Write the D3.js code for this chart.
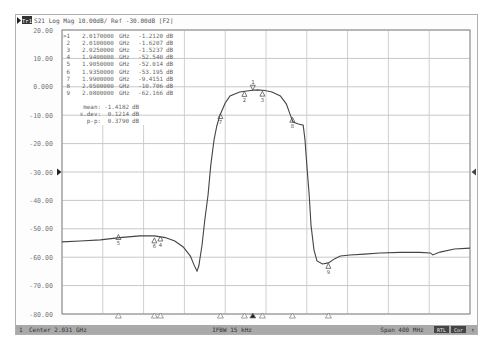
<!DOCTYPE html>
<html lang="en">
<head>
<meta charset="UTF-8">
<title>S21 Log Mag</title>
<script src="https://d3js.org/d3.v7.min.js"></script>
<style>
    body { margin: 0; background: #fff; }
    text { font-family: "DejaVu Sans Mono", monospace; fill: #666; }
</style>
</head>
<body>
<svg id="chart" width="486" height="338"></svg>
<script>
    // y axis (dB)
    var yTicks = [20, 10, 0, -10, -20, -30, -40, -50, -60, -70, -80];
    var yLabels = ["20.00", "10.00", "0.000", "-10.00", "-20.00", "-30.00", "-40.00", "-50.00", "-60.00", "-70.00", "-80.00"];
    var refLevel = -30;

    // frequency in MHz, trace in dB
    var traceFreq = [1858, 1873, 1890, 1906, 1923, 1935, 1944, 1952, 1959, 1965, 1968, 1970.5, 1972, 1974.7, 1977, 1979.7, 1982, 1984.7, 1987, 1989.7, 1994, 1998, 2006, 2015, 2021, 2027, 2033, 2040, 2045, 2048, 2050.5, 2055, 2059, 2060.5, 2062, 2064, 2065.5, 2068, 2070.5, 2075, 2080, 2085, 2090, 2098, 2110, 2123, 2140, 2156, 2165, 2167, 2173, 2185, 2198];
    var traceDb = [-54.6, -54.3, -53.9, -53.1, -52.5, -52.5, -53.1, -54.3, -56.4, -59.6, -62.7, -64.9, -63.1, -55.7, -46.9, -38.1, -27.5, -18.7, -13.8, -9.9, -5.7, -3.2, -1.8, -1.3, -1.1, -1.3, -1.8, -3.2, -6.1, -9.6, -12.4, -13.1, -13.5, -18.7, -27.5, -38.1, -48.7, -57.5, -61.3, -62.4, -62.0, -60.6, -59.6, -59.2, -58.9, -58.5, -58.3, -58.3, -58.5, -59.2, -58.2, -57.1, -56.8];

    // markers
    var markerIds = [1, 2, 3, 4, 5, 6, 7, 8, 9];
    var markerFreqText = ["2.0170000", "2.0100000", "2.0250000", "1.9400000", "1.9050000", "1.9350000", "1.9900000", "2.0500000", "2.0800000"];
    var markerDbText = ["-1.2120", "-1.6207", "-1.5237", "-52.540", "-52.014", "-53.195", "-9.4151", "-10.706", "-62.166"];
    var activeMarker = 1;

    var statNames = ["mean:", "s.dev:", "p-p:"];
    var statValues = ["-1.4182", "0.1214", "0.3790"];

    var titleText = "S21 Log Mag 10.00dB/ Ref -30.00dB [F2]";
    var statusLeft = "Center 2.031 GHz", statusMid = "IFBW 15 kHz", statusRight = "Span 400 MHz";

    var svg = d3.select("#chart");
    var plot = {left: 62, right: 470, top: 30, bottom: 314};

    var x = d3.scaleLinear().domain([1858, 2198]).range([plot.left, plot.right]);
    var y = d3.scaleLinear().domain([-80, 20]).range([plot.bottom, plot.top]);
    var xGrid = d3.range(11).map(function(i) { return 1858 + i * 34; });

    // instrument screen frame
    svg.append("rect").attr("x", 15.5).attr("y", 14.5).attr("width", 462).attr("height", 320)
        .attr("fill", "#fdfdfd").attr("stroke", "#b0b0b0");

    // title line
    svg.append("path").attr("d", "M17,17 L21,20.5 L17,24 Z").attr("fill", "#222");
    svg.append("rect").attr("x", 22).attr("y", 16).attr("width", 10).attr("height", 8).attr("fill", "#333");
    svg.append("text").attr("x", 27).attr("y", 22.5).attr("text-anchor", "middle")
        .style("font-size", "5.5px").style("fill", "#fff").text("Tr1");
    svg.append("text").attr("x", 34).attr("y", 23).style("font-size", "6.1px").style("fill", "#555").text(titleText);

    // plot background
    svg.append("rect").attr("x", plot.left).attr("y", plot.top)
        .attr("width", plot.right - plot.left).attr("height", plot.bottom - plot.top)
        .attr("fill", "#fff");

    // vertical grid
    svg.append("g").selectAll("line").data(xGrid).enter().append("line")
        .attr("x1", function(d) { return x(d); }).attr("x2", function(d) { return x(d); })
        .attr("y1", plot.top).attr("y2", plot.bottom)
        .attr("stroke", "#cfcfcf").attr("stroke-width", 1);

    // marker table background
    svg.append("rect").attr("x", plot.left + 1).attr("y", plot.top + 1)
        .attr("width", 116).attr("height", 94).attr("fill", "#fff");

    // horizontal grid
    svg.append("g").selectAll("line").data(yTicks).enter().append("line")
        .attr("x1", plot.left).attr("x2", plot.right)
        .attr("y1", function(d) { return y(d); }).attr("y2", function(d) { return y(d); })
        .attr("stroke", "#c8c8c8").attr("stroke-width", 1);

    // y labels
    svg.append("g").selectAll("text").data(yTicks).enter().append("text")
        .attr("x", 53).attr("y", function(d) { return y(d) + 2.5; })
        .attr("text-anchor", "end").style("font-size", "6.6px").style("fill", "#777")
        .text(function(d, i) { return yLabels[i]; });

    // plot border
    svg.append("rect").attr("x", plot.left).attr("y", plot.top)
        .attr("width", plot.right - plot.left).attr("height", plot.bottom - plot.top)
        .attr("fill", "none").attr("stroke", "#8a8a8a");

    // reference level arrows
    var ry = y(refLevel);
    svg.append("path").attr("d", "M57," + (ry - 3.5) + " L61.5," + ry + " L57," + (ry + 3.5) + " Z").attr("fill", "#222");
    svg.append("path").attr("d", "M476," + (ry - 3.5) + " L471.5," + ry + " L476," + (ry + 3.5) + " Z").attr("fill", "#444");

    // trace
    var traceData = traceFreq.map(function(f, i) { return [f, traceDb[i]]; });
    svg.append("path").datum(traceData)
        .attr("d", d3.line().x(function(d) { return x(d[0]); }).y(function(d) { return y(d[1]); }))
        .attr("fill", "none").attr("stroke", "#444").attr("stroke-width", 1.1);

    // markers on trace
    var markers = markerIds.map(function(id, i) {
        return {id: id, f: parseFloat(markerFreqText[i]) * 1000, db: parseFloat(markerDbText[i])};
    });
    var mg = svg.append("g");
    markers.forEach(function(m) {
        var mx = x(m.f), my = y(m.db);
        if (m.id === activeMarker) {
            mg.append("path").attr("d", "M" + mx + "," + my + " l-2.5,-5 l5,0 Z")
                .attr("fill", "none").attr("stroke", "#555").attr("stroke-width", 0.8);
            mg.append("text").attr("x", mx).attr("y", my - 6).attr("text-anchor", "middle")
                .style("font-size", "5.5px").style("fill", "#555").text(m.id);
        } else {
            mg.append("path").attr("d", "M" + mx + "," + my + " l-2.5,5 l5,0 Z")
                .attr("fill", "none").attr("stroke", "#555").attr("stroke-width", 0.8);
            mg.append("text").attr("x", mx).attr("y", my + 10.5).attr("text-anchor", "middle")
                .style("font-size", "5.5px").style("fill", "#555").text(m.id);
        }
        // marker position triangles along the bottom edge
        mg.append("path").attr("d", "M" + mx + "," + (plot.bottom - 1) + " l-3,5 l6,0 Z")
            .attr("fill", m.id === activeMarker ? "#222" : "#fff")
            .attr("stroke", "#777").attr("stroke-width", 0.7);
    });

    // marker table
    var tg = svg.append("g").style("font-size", "5.9px").style("fill", "#666");
    markers.forEach(function(m, i) {
        var ty = 38 + i * 7.1;
        tg.append("text").attr("x", 70).attr("y", ty).attr("text-anchor", "end")
            .text((m.id === activeMarker ? ">" : "") + m.id);
        tg.append("text").attr("x", 82).attr("y", ty).text(markerFreqText[i]);
        tg.append("text").attr("x", 119).attr("y", ty).text("GHz");
        tg.append("text").attr("x", 163).attr("y", ty).attr("text-anchor", "end").text(markerDbText[i]);
        tg.append("text").attr("x", 166).attr("y", ty).text("dB");
    });
    statNames.forEach(function(s, i) {
        var ty = 109 + i * 7;
        tg.append("text").attr("x", 101).attr("y", ty).attr("text-anchor", "end").text(s);
        tg.append("text").attr("x", 129).attr("y", ty).attr("text-anchor", "end").text(statValues[i]);
        tg.append("text").attr("x", 132).attr("y", ty).text("dB");
    });

    // status bar
    svg.append("rect").attr("x", 16).attr("y", 325).attr("width", 461).attr("height", 9).attr("fill", "#a9a9a9");
    svg.append("text").attr("x", 19).attr("y", 332).style("font-size", "6px").style("fill", "#333").text("1");
    svg.append("text").attr("x", 29).attr("y", 332).style("font-size", "6px").style("fill", "#333").text(statusLeft);
    svg.append("text").attr("x", 232).attr("y", 332).attr("text-anchor", "middle").style("font-size", "6px").style("fill", "#333").text(statusMid);
    svg.append("text").attr("x", 402).attr("y", 332).attr("text-anchor", "middle").style("font-size", "6px").style("fill", "#333").text(statusRight);
    svg.append("rect").attr("x", 434).attr("y", 326).attr("width", 15).attr("height", 7).attr("fill", "#444");
    svg.append("text").attr("x", 441.5).attr("y", 331.8).attr("text-anchor", "middle").style("font-size", "5px").style("fill", "#eee").text("RTL");
    svg.append("rect").attr("x", 451).attr("y", 326).attr("width", 15).attr("height", 7).attr("fill", "#444");
    svg.append("text").attr("x", 458.5).attr("y", 331.8).attr("text-anchor", "middle").style("font-size", "5px").style("fill", "#eee").text("Cor");
    svg.append("text").attr("x", 471).attr("y", 332).style("font-size", "6px").style("fill", "#333").text("↑");
</script>
</body>
</html>
